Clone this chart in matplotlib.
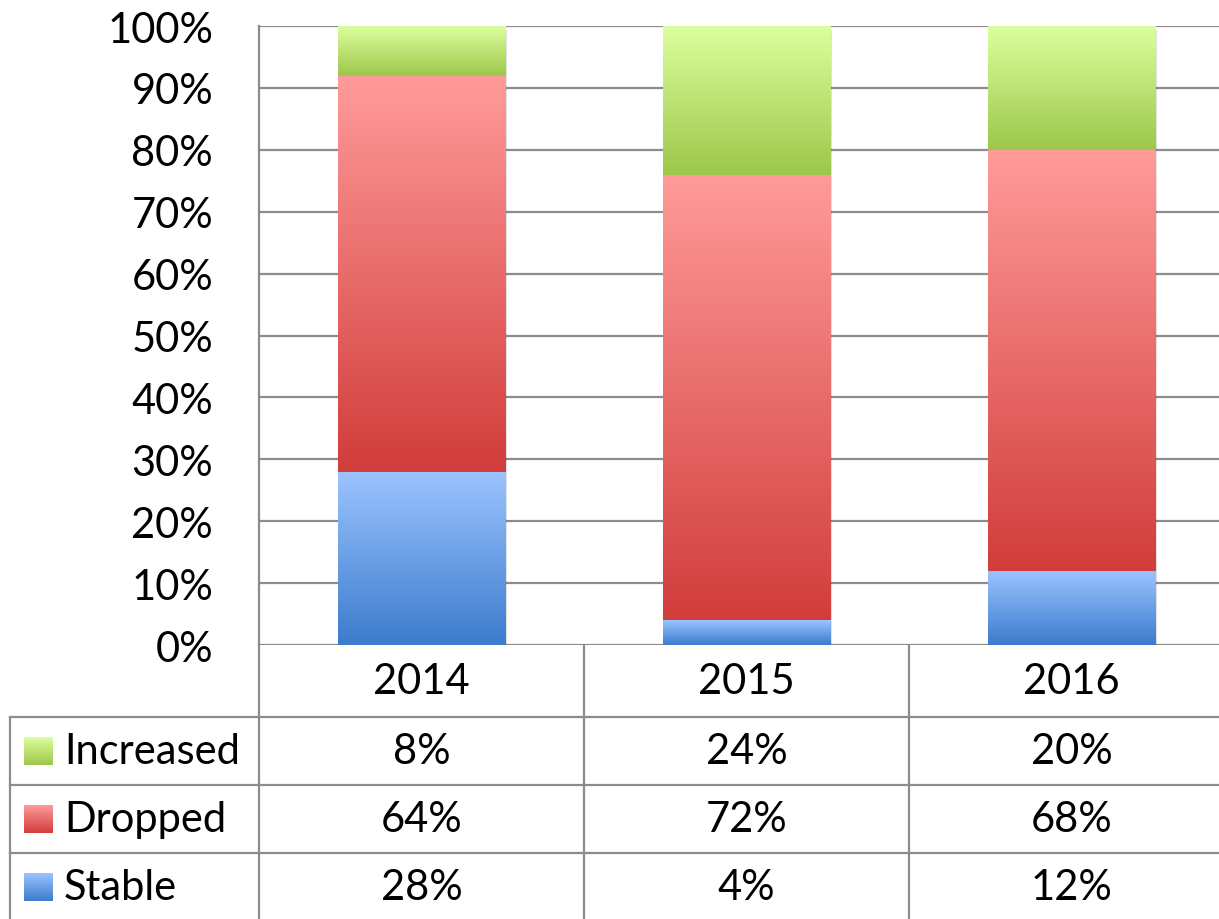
"""Stacked 100% bars (Stable / Dropped / Increased) with a data table underneath."""
import numpy as np
import matplotlib
matplotlib.use("Agg")
import matplotlib.pyplot as plt
from matplotlib.colors import LinearSegmentedColormap
from matplotlib.patches import Rectangle

# ── Data ──
years = ["2014", "2015", "2016"]
stable = [28, 4, 12]
dropped = [64, 72, 68]
increased = [8, 24, 20]

# stacking order bottom -> top, table order top -> bottom
stack = [("Stable", stable), ("Dropped", dropped), ("Increased", increased)]
shades = {
    "Stable": ("#9cc4ff", "#3c7bcd"),
    "Dropped": ("#ff9b9a", "#d13d3b"),
    "Increased": ("#dcff9e", "#9dc74b"),
}
cmaps = {k: LinearSegmentedColormap.from_list(k, v) for k, v in shades.items()}
grad = np.linspace(0, 1, 256).reshape(-1, 1)

plt.rcParams["font.family"] = ["Lato", "DejaVu Sans"]
LINE = "#8c8c8c"
FS = 30

W, H = 1219, 920
fig = plt.figure(figsize=(W / 100, H / 100), dpi=100)
# plot area in pixels: x 259..1234 (3 columns of 325), y 27..646
ax = fig.add_axes([259 / W, (H - 646) / H, 975 / W, 619 / H])

x = np.arange(len(years))
bw = 0.515
bottom = np.zeros(len(years))
for name, vals in stack:
    bars = ax.bar(x, vals, bw, bottom=bottom, color="none", edgecolor="none", zorder=3)
    for b in bars:
        x0, y0, w, h = b.get_x(), b.get_y(), b.get_width(), b.get_height()
        if h <= 0:
            continue
        ax.imshow(grad, cmap=cmaps[name], aspect="auto", origin="upper",
                  extent=(x0, x0 + w, y0, y0 + h), zorder=3, interpolation="bilinear")
    bottom += np.array(vals)

# faint drop shadow behind each full bar
for xi, tot in zip(x, bottom):
    ax.add_patch(Rectangle((xi - bw / 2 + 0.006, -0.6), bw, tot, facecolor="#000000",
                           alpha=0.12, edgecolor="none", zorder=2))

ax.set_xlim(-0.5, len(years) - 0.5)
ax.set_ylim(0, 100)
ax.set_yticks(range(0, 101, 10))
ax.set_yticklabels([f"{v}%" for v in range(0, 101, 10)], fontsize=FS)
ax.set_xticks([])
ax.tick_params(axis="y", length=0, pad=33)
ax.yaxis.grid(True, color=LINE, linewidth=1.6, zorder=1)
ax.set_axisbelow(True)
for s in ["top", "right", "bottom"]:
    ax.spines[s].set_visible(False)
ax.spines["left"].set_color(LINE)
ax.spines["left"].set_linewidth(1.6)

# ── Data table below the plot (x in data units, y in % units) ──
px = 100 / 619          # one pixel in % units
head_h = 72 * px
row_h = 68 * px
left = -0.5 - 249 / 325
bottom_y = -(head_h + 3 * row_h)
kw = dict(color=LINE, linewidth=1.6, clip_on=False, zorder=1)

ax.plot([-0.5, -0.5], [0, bottom_y], **kw)
for xi in x:
    ax.plot([xi + 0.5, xi + 0.5], [0, bottom_y], **kw)
for r in range(3):
    yy = -(head_h + r * row_h)
    ax.plot([left, len(years) - 0.5], [yy, yy], **kw)
ax.plot([left, left], [-head_h, bottom_y], **kw)

for xi, yr in zip(x, years):
    ax.text(xi, -head_h / 2, yr, ha="center", va="center", fontsize=FS, clip_on=False)

key_w = 28 / 325
key_h = 28 * px
for r, (name, vals) in enumerate(stack[::-1]):
    yc = -(head_h + (r + 0.5) * row_h)
    kx = -0.5 - 235 / 325
    ax.imshow(grad, cmap=cmaps[name], aspect="auto", origin="upper",
              extent=(kx, kx + key_w, yc - key_h / 2, yc + key_h / 2),
              clip_on=False, zorder=3, interpolation="bilinear")
    ax.text(-0.5 - 195 / 325, yc, name, ha="left", va="center", fontsize=FS, clip_on=False)
    for xi, v in zip(x, vals):
        ax.text(xi, yc, f"{v}%", ha="center", va="center", fontsize=FS, clip_on=False)

ax.set_xlim(-0.5, len(years) - 0.5)
ax.set_ylim(0, 100)

fig.savefig("out.png", dpi=100, facecolor="white")
plt.close()
